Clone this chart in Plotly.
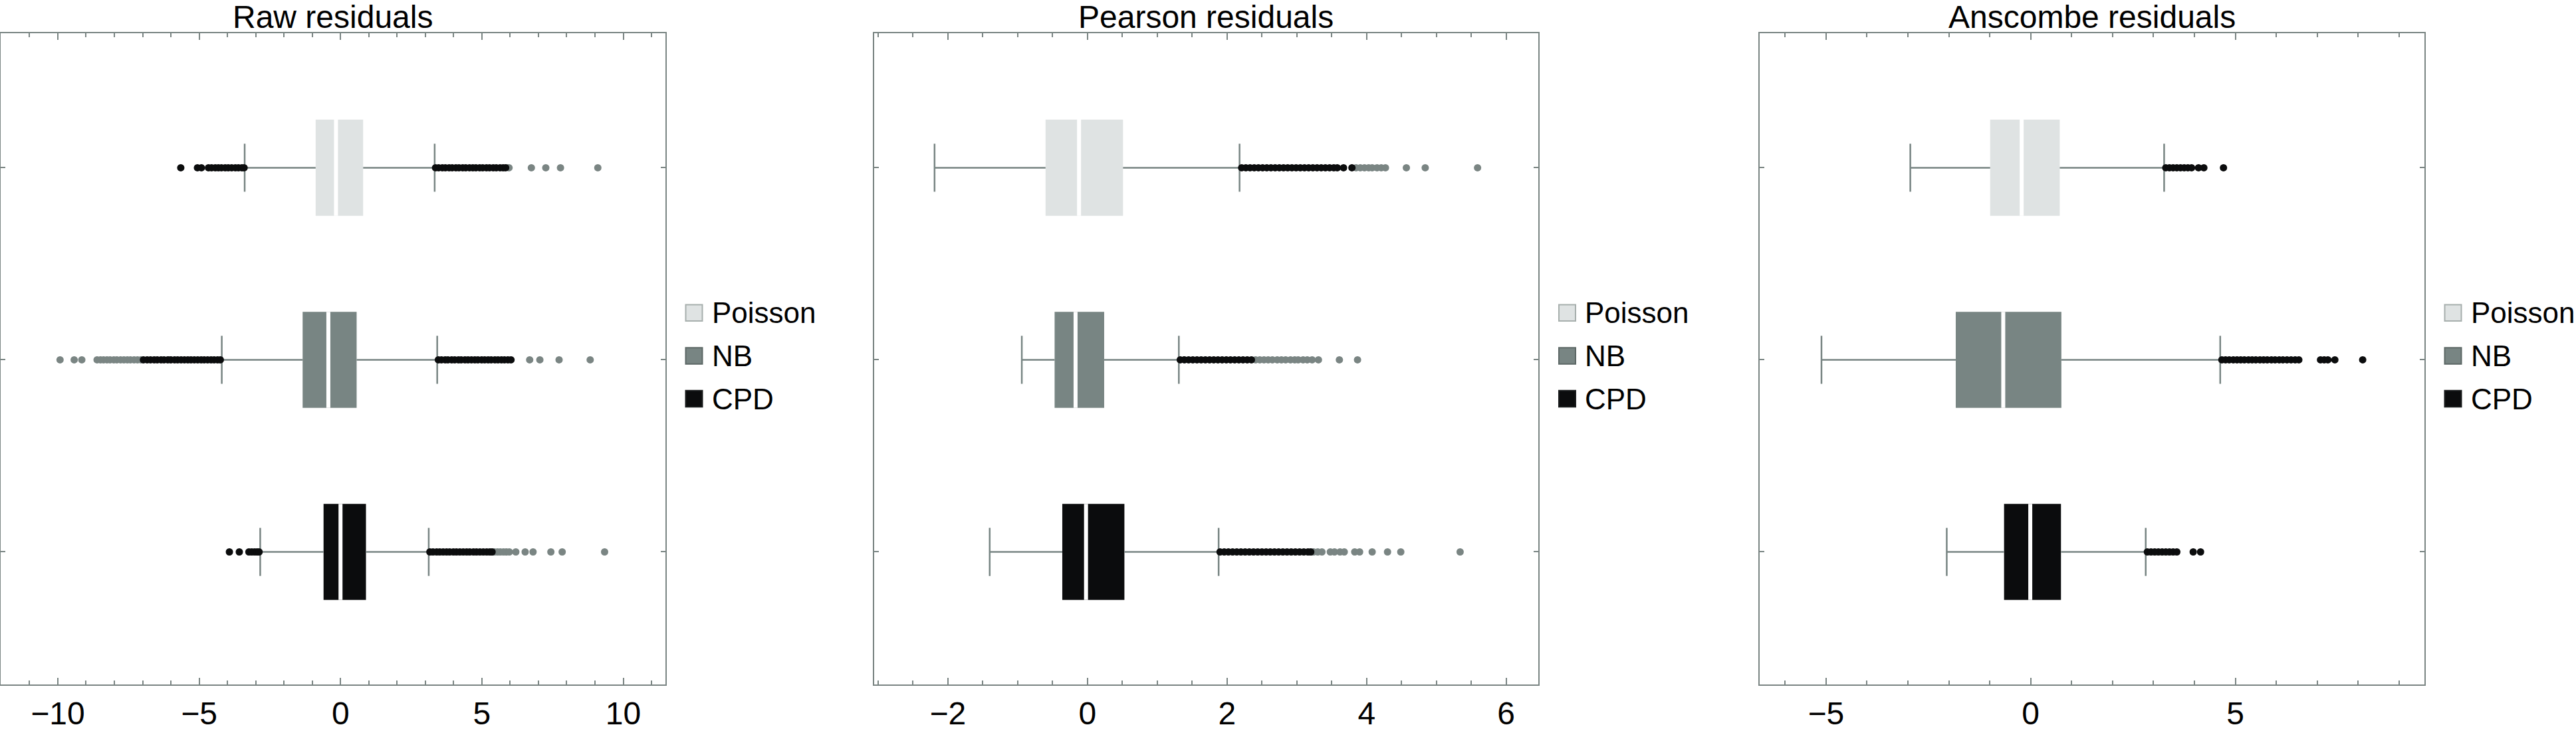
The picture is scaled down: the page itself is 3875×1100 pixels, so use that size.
import plotly.graph_objects as go
from plotly.subplots import make_subplots

# ---------------- data ----------------
series = ["Poisson", "NB", "CPD"]
panel_titles = ["Raw residuals", "Pearson residuals", "Anscombe residuals"]
colors = ["#dfe3e3", "#788583", "#0b0c0d"]

# Raw residuals
raw_q1 = [-0.88, -1.34, -0.60]
raw_median = [-0.16, -0.43, 0.00]
raw_q3 = [0.80, 0.57, 0.90]
raw_lower = [-3.39, -4.20, -2.84]
raw_upper = [3.33, 3.42, 3.12]
raw_near = [
    [-5.65, -5.06, -4.92, -4.67, -4.56, -4.43, -4.32, -4.21, -4.08, -3.97, -3.85, -3.72, -3.61, -3.49, -3.41,
     3.36, 3.47, 3.60, 3.71, 3.84, 3.95, 4.08, 4.19, 4.32, 4.43, 4.56, 4.68, 4.79, 4.92, 5.03, 5.16, 5.27,
     5.40, 5.51, 5.64, 5.75, 5.84],
    [-6.97, -6.84, -6.72, -6.59, -6.48, -6.35, -6.24, -6.11, -6.00, -5.87, -5.76, -5.64, -5.52, -5.40, -5.29,
     -5.17, -5.05, -4.93, -4.82, -4.70, -4.58, -4.47, -4.35, -4.25,
     3.46, 3.57, 3.70, 3.80, 3.93, 4.04, 4.17, 4.27, 4.40, 4.51, 4.63, 4.75, 4.86, 4.99, 5.10, 5.22, 5.33,
     5.46, 5.57, 5.69, 5.80, 5.92, 6.03],
    [-3.93, -3.58, -3.24, -3.14, -3.04, -2.95, -2.88,
     3.16, 3.27, 3.40, 3.51, 3.63, 3.75, 3.86, 3.99, 4.10, 4.22, 4.34, 4.46, 4.57, 4.70, 4.81, 4.93, 5.05,
     5.17, 5.28, 5.36],
]
raw_far = [
    [5.96, 6.75, 7.26, 7.78, 9.10],
    [-9.92, -9.42, -9.15, -8.61, -8.49, -8.38, -8.26, -8.15, -8.02, -7.91, -7.78, -7.66, -7.54, -7.43,
     -7.30, -7.18, -7.06, 6.69, 7.05, 7.73, 8.83],
    [5.44, 5.55, 5.65, 5.76, 5.86, 5.97, 6.20, 6.53, 6.81, 7.44, 7.84, 9.34],
]

# Pearson residuals
pearson_q1 = [-0.60, -0.47, -0.36]
pearson_median = [-0.12, -0.17, -0.02]
pearson_q3 = [0.51, 0.24, 0.53]
pearson_lower = [-2.19, -0.94, -1.40]
pearson_upper = [2.18, 1.31, 1.88]
pearson_near = [
    [2.21, 2.27, 2.33, 2.39, 2.45, 2.51, 2.57, 2.63, 2.69, 2.75, 2.81, 2.87, 2.93, 2.99, 3.05, 3.11, 3.17,
     3.23, 3.29, 3.35, 3.41, 3.47, 3.53, 3.58, 3.67, 3.79],
    [1.33, 1.39, 1.45, 1.51, 1.57, 1.63, 1.69, 1.75, 1.81, 1.87, 1.93, 1.99, 2.05, 2.11, 2.17, 2.23, 2.29,
     2.35],
    [1.90, 1.96, 2.02, 2.08, 2.14, 2.20, 2.26, 2.32, 2.38, 2.44, 2.50, 2.56, 2.62, 2.68, 2.74, 2.80, 2.86,
     2.92, 2.98, 3.04, 3.10, 3.16, 3.20],
]
pearson_far = [
    [3.85, 3.91, 3.97, 4.03, 4.08, 4.15, 4.21, 4.27, 4.57, 4.84, 5.59],
    [2.41, 2.47, 2.53, 2.59, 2.65, 2.72, 2.78, 2.84, 2.91, 2.97, 3.02, 3.09, 3.15, 3.22, 3.31, 3.61, 3.87],
    [3.24, 3.30, 3.36, 3.48, 3.54, 3.62, 3.68, 3.83, 3.90, 4.08, 4.30, 4.49, 5.34],
]

# Anscombe residuals
anscombe_q1 = [-0.99, -1.83, -0.65]
anscombe_median = [-0.22, -0.67, -0.01]
anscombe_q3 = [0.71, 0.75, 0.74]
anscombe_lower = [-2.94, -5.11, -2.05]
anscombe_upper = [3.26, 4.63, 2.81]
anscombe_near = [
    [3.30, 3.39, 3.48, 3.57, 3.66, 3.75, 3.84, 3.93, 4.10, 4.23, 4.71],
    [4.67, 4.76, 4.85, 4.95, 5.04, 5.13, 5.22, 5.32, 5.41, 5.50, 5.60, 5.69, 5.78, 5.88, 5.97, 6.07, 6.16,
     6.26, 6.36, 6.46, 6.55, 7.08, 7.17, 7.26, 7.43, 8.11],
    [2.85, 2.94, 3.03, 3.12, 3.21, 3.30, 3.39, 3.48, 3.57, 3.97, 4.15],
]
anscombe_far = [[], [], []]

panels = [
    dict(q1=raw_q1, med=raw_median, q3=raw_q3, lo=raw_lower, hi=raw_upper, near=raw_near, far=raw_far),
    dict(q1=pearson_q1, med=pearson_median, q3=pearson_q3, lo=pearson_lower, hi=pearson_upper,
         near=pearson_near, far=pearson_far),
    dict(q1=anscombe_q1, med=anscombe_median, q3=anscombe_q3, lo=anscombe_lower, hi=anscombe_upper,
         near=anscombe_near, far=anscombe_far),
]

# ---------------- layout constants ----------------
W, H = 3875, 1100
FRAME_TOP, FRAME_BOTTOM = 51, 1050
PANEL_LEFT = [1, 1314.5, 2647]
PANEL_W = 999.5
X_RANGES = [[-12.02, 11.48], [-3.06, 6.46], [-6.62, 9.61]]
X_DTICK = [5, 2, 5]
X_MINOR = [1, 0.5, 1]
FRAME_COLOR = "#7a8583"
WHISKER_COLOR = "#788583"
NEAR_COLOR = "#0b0c0d"
FAR_COLOR = "#7a8583"
FONT = "Liberation Sans, Arial, Helvetica, sans-serif"
BOX_W = 0.5
CAP_W = 0.25

n = len(series)
ypos = [n - i for i in range(n)]  # Poisson on top

fig = make_subplots(rows=1, cols=3)

for p, d in enumerate(panels):
    row, col = 1, p + 1
    # box bodies
    fig.add_trace(go.Bar(
        orientation="h", y=ypos, base=d["q1"],
        x=[b - a for a, b in zip(d["q1"], d["q3"])],
        width=BOX_W, marker=dict(color=colors, line=dict(width=0)),
        showlegend=False, hoverinfo="skip"), row=row, col=col)
    # whiskers + caps
    wx, wy = [], []
    for i in range(n):
        y = ypos[i]
        wx += [d["lo"][i], d["q1"][i], None, d["q3"][i], d["hi"][i], None,
               d["lo"][i], d["lo"][i], None, d["hi"][i], d["hi"][i], None]
        wy += [y, y, None, y, y, None,
               y - CAP_W / 2, y + CAP_W / 2, None, y - CAP_W / 2, y + CAP_W / 2, None]
    fig.add_trace(go.Scatter(x=wx, y=wy, mode="lines",
                             line=dict(color=WHISKER_COLOR, width=2.5),
                             showlegend=False, hoverinfo="skip"), row=row, col=col)
    # medians
    mx, my = [], []
    for i in range(n):
        mx += [d["med"][i], d["med"][i], None]
        my += [ypos[i] - BOX_W / 2, ypos[i] + BOX_W / 2, None]
    fig.add_trace(go.Scatter(x=mx, y=my, mode="lines", line=dict(color="white", width=6),
                             showlegend=False, hoverinfo="skip"), row=row, col=col)
    # outliers
    for key, c in (("far", FAR_COLOR), ("near", NEAR_COLOR)):
        ox, oy = [], []
        for i in range(n):
            ox += d[key][i]
            oy += [ypos[i]] * len(d[key][i])
        fig.add_trace(go.Scatter(x=ox, y=oy, mode="markers",
                                 marker=dict(color=c, size=11, line=dict(width=0)),
                                 showlegend=False), row=row, col=col)

ydom = [(H - FRAME_BOTTOM) / H, (H - FRAME_TOP) / H]
frame_h = FRAME_BOTTOM - FRAME_TOP

for p in range(3):
    sfx = "" if p == 0 else str(p + 1)
    fig.update_layout(**{
        "xaxis" + sfx: dict(
            domain=[PANEL_LEFT[p] / W, (PANEL_LEFT[p] + PANEL_W) / W],
            range=X_RANGES[p], tick0=0, dtick=X_DTICK[p],
            showgrid=False, zeroline=False, showline=True, linecolor=FRAME_COLOR, linewidth=2,
            mirror="ticks", ticks="inside", ticklen=10, tickwidth=1.5, tickcolor=FRAME_COLOR,
            minor=dict(dtick=X_MINOR[p], tick0=0, ticks="inside", ticklen=6, tickwidth=1.5,
                       tickcolor=FRAME_COLOR, showgrid=False),
            tickfont=dict(family=FONT, size=48, color="black"),
        ),
        "yaxis" + sfx: dict(
            domain=ydom, range=[0.31, 3.70], tickvals=ypos, showticklabels=False,
            showgrid=False, zeroline=False, showline=True, linecolor=FRAME_COLOR, linewidth=2,
            mirror="ticks", ticks="inside", ticklen=7, tickwidth=1.5, tickcolor=FRAME_COLOR,
        ),
    })

# titles and legends (per panel)
annotations, shapes = [], []
legend_rows_px = [480, 546, 611.7]
legend_fill = colors
legend_edge = ["#a7afad", "#5d6866", "#1a1c1d"]
for p in range(3):
    sfx = "" if p == 0 else str(p + 1)
    annotations.append(dict(
        text=panel_titles[p], xref="x" + sfx + " domain", x=0.5, xanchor="center",
        yref="paper", y=1 - 26.5 / H, yanchor="middle", showarrow=False,
        font=dict(family=FONT, size=48, color="black")))
    for i, name in enumerate(series):
        yc = (FRAME_BOTTOM - legend_rows_px[i]) / frame_h
        half = 12.5 / frame_h
        shapes.append(dict(
            type="rect", xref="x" + sfx + " domain", yref="y" + sfx + " domain",
            x0=1 + 31 / PANEL_W, x1=1 + 56 / PANEL_W, y0=yc - half, y1=yc + half,
            fillcolor=legend_fill[i], line=dict(color=legend_edge[i], width=2)))
        annotations.append(dict(
            text=name, xref="x" + sfx + " domain", x=1 + 68 / PANEL_W, xanchor="left",
            yref="y" + sfx + " domain", y=yc, yanchor="middle", showarrow=False,
            font=dict(family=FONT, size=44, color="black")))

fig.update_layout(
    width=W, height=H, margin=dict(l=0, r=0, t=0, b=0),
    paper_bgcolor="white", plot_bgcolor="white",
    showlegend=False, annotations=annotations, shapes=shapes,
    font=dict(family=FONT),
)

fig.write_html("out.html")
